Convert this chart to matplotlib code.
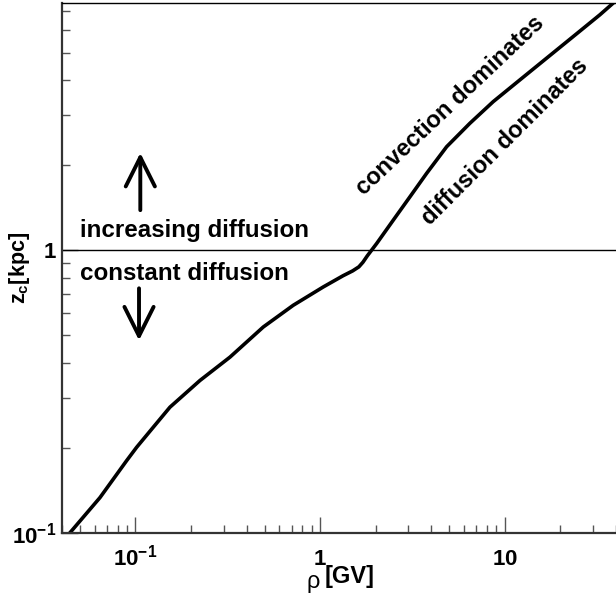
import matplotlib
matplotlib.use('Agg')
import matplotlib.pyplot as plt
from matplotlib.ticker import LogLocator, FixedLocator, NullFormatter

plt.rcParams['font.family'] = ['Liberation Sans', 'DejaVu Sans']
plt.rcParams['mathtext.fontset'] = 'custom'
plt.rcParams['mathtext.rm'] = 'Liberation Sans'
plt.rcParams['mathtext.bf'] = 'Liberation Sans:bold'
plt.rcParams['mathtext.it'] = 'Liberation Sans:italic'

# critical height z_c vs rigidity
rigidity = [0.0442, 0.0642, 0.0896, 0.1015, 0.1248, 0.1537, 0.2235, 0.3248,
            0.4918, 0.7149, 1.039, 1.33, 1.50, 1.62, 1.705, 1.80, 2.023,
            2.487, 3.063, 3.772, 4.840, 6.471, 8.655, 12.07, 16.84, 23.46,
            32.72, 38.63]
z_c = [0.100, 0.1331, 0.1800, 0.2007, 0.2362, 0.2782, 0.3459, 0.4183,
       0.5346, 0.6383, 0.7410, 0.812, 0.845, 0.873, 0.9067, 0.955, 1.056,
       1.277, 1.545, 1.871, 2.324, 2.814, 3.357, 4.008, 4.784, 5.706,
       6.813, 7.495]

x_range = (0.04, 40)
y_range = (0.1, 7.5)
z_break = 1.0

fig = plt.figure(figsize=(6.16, 5.93), dpi=100)
ax = fig.add_axes([62 / 616, 60.3 / 593, 554 / 616, 529.7 / 593])

ax.plot(rigidity, z_c, color='black', lw=2.6, solid_joinstyle='round')
ax.axhline(z_break, color='black', lw=1.0)

ax.set_xscale('log')
ax.set_yscale('log')
ax.set_xlim(*x_range)
ax.set_ylim(*y_range)

for s in ['left', 'bottom']:
    ax.spines[s].set_linewidth(1.6)
    ax.spines[s].set_color('#333333')
ax.spines['top'].set_linewidth(1.0)
ax.spines['right'].set_visible(False)

ax.xaxis.set_major_locator(FixedLocator([0.1, 1, 10]))
ax.xaxis.set_minor_locator(LogLocator(base=10, subs=range(2, 10), numticks=20))
ax.yaxis.set_major_locator(FixedLocator([0.1, 1]))
ax.yaxis.set_minor_locator(LogLocator(base=10, subs=range(2, 10), numticks=20))
ax.xaxis.set_minor_formatter(NullFormatter())
ax.yaxis.set_minor_formatter(NullFormatter())
ax.set_xticklabels([r'$\mathbf{10^{-1}}$', r'$\mathbf{1}$', r'$\mathbf{10}$'],
                   va='baseline')
ax.set_yticklabels([r'$\mathbf{10^{-1}}$', r'$\mathbf{1}$'])

ax.tick_params(which='both', direction='in', color='#555555', width=1.0,
               labelsize=16)
ax.tick_params(which='major', length=11.5)
ax.tick_params(which='minor', length=6)
ax.tick_params(axis='x', pad=23.5)
ax.tick_params(axis='y', pad=4)

fig.text(19 / 616, 1 - 268 / 593, r'$\mathbf{z_c[kpc]}$', fontsize=15.5,
         rotation=90, ha='center', va='center')

# x title: plain rho followed by bold, slightly raised [GV]
fig.text(313 / 616, 1 - 588 / 593, 'ρ', fontsize=17, ha='center',
         va='baseline')
fig.text(325 / 616, 1 - 583 / 593, '[GV]', fontsize=17, fontweight='bold',
         ha='left', va='baseline')

fig.text(80.5 / 616, 1 - 236.5 / 593, 'increasing diffusion', fontsize=17.4,
         fontweight='bold', va='baseline', ha='left')
fig.text(80.5 / 616, 1 - 279.5 / 593, 'constant diffusion', fontsize=17.4,
         fontweight='bold', va='baseline', ha='left')

arrow = dict(arrowstyle='->, head_length=2.1, head_width=1.05', lw=2.8,
             color='black', shrinkA=0, shrinkB=0)
ax.annotate('', xy=(0.1062, 2.21), xytext=(0.1062, 1.386), arrowprops=arrow)
ax.annotate('', xy=(0.1045, 0.4795), xytext=(0.1045, 0.733), arrowprops=arrow)

fig.text(455 / 616, 1 - 110 / 593, 'convection dominates', fontsize=17,
         fontweight='bold', rotation=43.4, rotation_mode='anchor',
         ha='center', va='baseline')
fig.text(510 / 616, 1 - 146 / 593, 'diffusion dominates', fontsize=17,
         fontweight='bold', rotation=45, rotation_mode='anchor',
         ha='center', va='baseline')

fig.savefig('out.png', dpi=100)
